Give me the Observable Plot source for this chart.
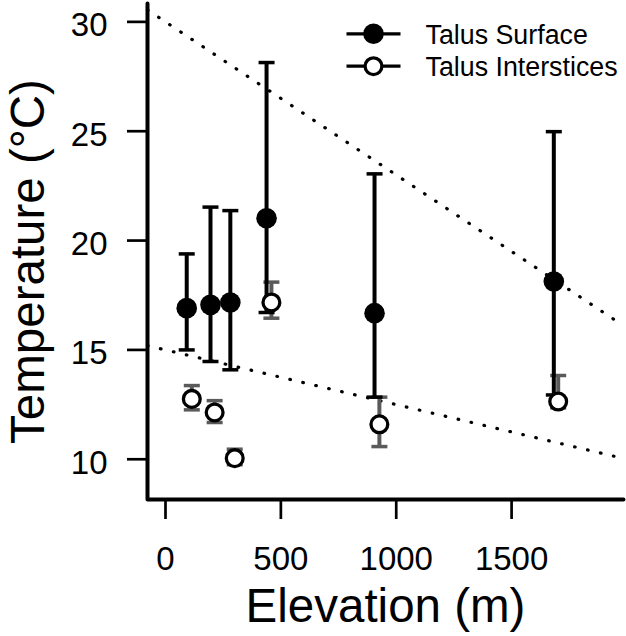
<!DOCTYPE html>
<html><head><meta charset="utf-8">
<script src="https://cdn.jsdelivr.net/npm/d3@7"></script>
<script src="https://cdn.jsdelivr.net/npm/@observablehq/plot@0.6"></script>
<style>
html,body{margin:0;padding:0;background:#fff;}
#chart{width:626px;height:636px;}
</style></head><body><div id="chart"></div>
<script>
// ---- data ----
const surfaceElev = [92, 195, 281, 438, 906, 1683];
const surfaceTemp = [16.91, 17.06, 17.17, 21.02, 16.68, 18.13];
const surfaceLow  = [15.0, 14.47, 14.09, 16.71, 12.84, 12.94];
const surfaceHigh = [19.39, 21.53, 21.37, 28.14, 23.05, 24.98];
const intElev = [114, 213, 300, 459, 927, 1702];
const intTemp = [12.76, 12.14, 10.05, 17.17, 11.60, 12.64];
const intLow  = [12.26, 11.68, 9.75, 16.45, 10.58, 12.35];
const intHigh = [13.37, 12.68, 10.46, 18.10, 12.84, 13.83];
const envIntercept = [30, 15];
const envSlope = [-0.007, -0.0025];
const xTicks = [0, 500, 1000, 1500];
const yTicks = [10, 15, 20, 25, 30];
const legendLabels = ["Talus Surface", "Talus Interstices"];
const xLabel = "Elevation (m)";
const yLabel = "Temperature (°C)";
const xDomain = [-78, 1985];
const yDomain = [8.16, 30.84];

// ---- helpers ----
const hSeg = {draw(ctx, size) { const w = Math.sqrt(size / Math.PI); ctx.moveTo(-w, 0); ctx.lineTo(w, 0); }};
const idx = d3.range(surfaceElev.length);
const FONT = "Liberation Sans, Arial, Helvetica, sans-serif";
const GRAY = "#5a5a5a";

const envLines = envIntercept.flatMap((a, k) => xDomain.map(x => ({k, x, y: a + envSlope[k] * x})));
const box = [[xDomain[0], yDomain[1]], [xDomain[0], yDomain[0]], [xDomain[1], yDomain[0]]];

function bars(E, L, H, color) {
  return [
    Plot.ruleX(idx, {x: i => E[i], y1: i => L[i], y2: i => H[i], stroke: color, strokeWidth: 4}),
    Plot.dot(idx, {x: i => E[i], y: i => L[i], symbol: hSeg, r: 8, stroke: color, strokeWidth: 3.5, fill: "none"}),
    Plot.dot(idx, {x: i => E[i], y: i => H[i], symbol: hSeg, r: 8, stroke: color, strokeWidth: 3.5, fill: "none"})
  ];
}

const legendMarks = legendLabels.flatMap((lab, i) => {
  const dy = 30.3 + 32.4 * i;
  return [
    Plot.dot([lab], {frameAnchor: "top-left", dx: 226, dy, symbol: hSeg, r: 27, stroke: "black", strokeWidth: 3.3, fill: "none"}),
    i === 0
      ? Plot.dot([lab], {frameAnchor: "top-left", dx: 226, dy, r: 10.3, fill: "black", stroke: "none"})
      : Plot.dot([lab], {frameAnchor: "top-left", dx: 226, dy, r: 8.4, fill: "white", stroke: "black", strokeWidth: 3.3}),
    Plot.text([lab], {frameAnchor: "top-left", dx: 278, dy: dy + 1.5, text: d => d, textAnchor: "start", lineAnchor: "middle", fontSize: 26.8, fill: "black"})
  ];
});

const chart = Plot.plot({
  width: 626, height: 636,
  marginLeft: 147, marginRight: 3, marginTop: 3, marginBottom: 137,
  style: {fontFamily: FONT, background: "white", color: "black", overflow: "visible"},
  x: {domain: xDomain},
  y: {domain: yDomain},
  marks: [
    Plot.axisX({ticks: xTicks, tickSize: 20, fill: "none", strokeWidth: 2.7, label: null}),
    Plot.axisX({ticks: xTicks, tickSize: 0, tickPadding: 47, fontSize: 33, tickFormat: "d", label: null, fill: "black"}),
    Plot.axisY({ticks: yTicks, tickSize: 20, fill: "none", strokeWidth: 2.7, label: null}),
    Plot.axisY({ticks: yTicks, tickSize: 0, tickPadding: 40, fontSize: 33, dy: 4, tickFormat: "d", label: null, fill: "black"}),
    Plot.line(envLines, {x: "x", y: "y", z: "k", stroke: "black", strokeWidth: 3.2, strokeDasharray: "0.6 12.7", strokeLinecap: "round"}),
    ...bars(intElev, intLow, intHigh, GRAY),
    ...bars(surfaceElev, surfaceLow, surfaceHigh, "black"),
    Plot.dot(idx, {x: i => surfaceElev[i], y: i => surfaceTemp[i], r: 10.3, fill: "black", stroke: "none"}),
    Plot.dot(idx, {x: i => intElev[i], y: i => intTemp[i], r: 8.4, fill: "white", stroke: "black", strokeWidth: 3.3}),
    Plot.line(box, {x: d => d[0], y: d => d[1], stroke: "black", strokeWidth: 4, strokeLinejoin: "round"}),
    ...legendMarks,
    Plot.text([xLabel], {frameAnchor: "bottom", dy: 122, text: d => d, fontSize: 47.5, fill: "black"}),
    Plot.text([yLabel], {frameAnchor: "left", dx: -119, dy: 10, rotate: -90, textAnchor: "middle", lineAnchor: "middle", text: d => d, fontSize: 47.5, fill: "black"})
  ]
});
document.getElementById("chart").appendChild(chart);
</script>
</body></html>
